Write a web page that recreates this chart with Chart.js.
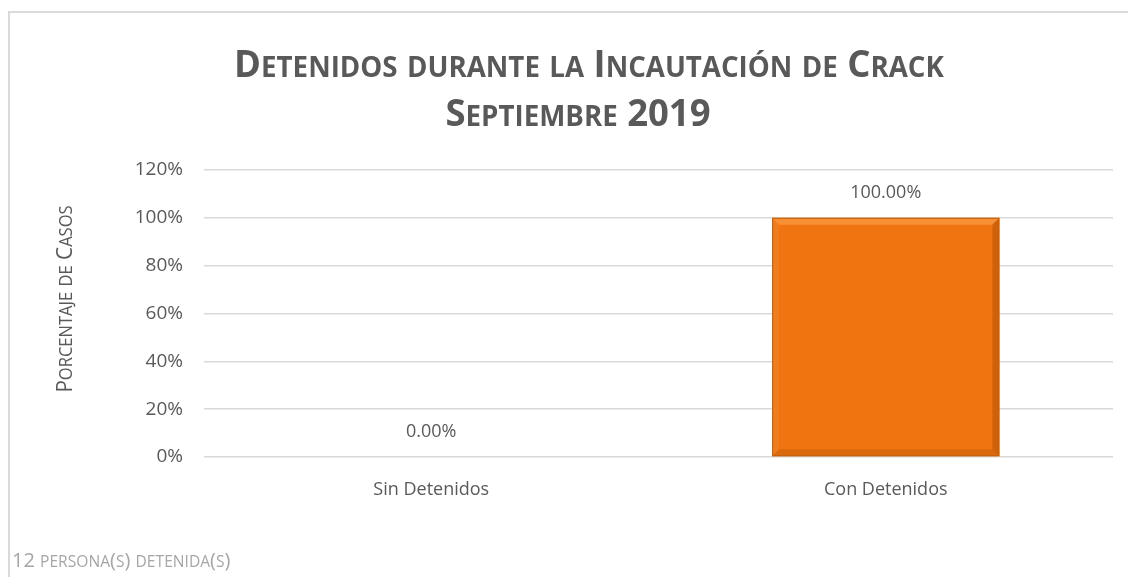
<!DOCTYPE html>
<html lang="es">

<head>
  <meta charset="UTF-8">
  <title>Detenidos durante la Incautación de Crack</title>
  <script src="https://cdn.jsdelivr.net/npm/chart.js"></script>
  <style>
    html, body { margin: 0; padding: 0; background: #fff; }
    #contenedor { position: relative; width: 1128px; height: 577px; }
  </style>
</head>

<body>
  <div id="contenedor">
    <canvas id="grafico"></canvas>
  </div>

  <script>
    // Datos del gráfico
    const categorias = ['Sin Detenidos', 'Con Detenidos'];
    const porcentajes = [0, 100];
    const ejeYMax = 120;
    const ejeYPaso = 20;

    const titulo1 = 'Detenidos durante la Incautación de Crack';
    const titulo2 = 'Septiembre 2019';
    const tituloEjeY = 'Porcentaje de Casos';
    const notaPie = '12 persona(s) detenida(s)';

    const gris = '#595959';
    const fuente = "'Open Sans', sans-serif";

    // Dibuja texto en versalitas: minúsculas pasan a mayúsculas más pequeñas
    function versalitas(ctx, texto, x, y, op) {
      const tramos = [];
      for (const ch of texto) {
        const pequena = ch !== ch.toUpperCase();
        const size = pequena ? op.size * op.ratio : op.size;
        const ult = tramos[tramos.length - 1];
        if (ult && ult.size === size) ult.t += ch.toUpperCase();
        else tramos.push({ t: ch.toUpperCase(), size });
      }
      ctx.save();
      ctx.fillStyle = op.color;
      ctx.textBaseline = 'alphabetic';
      ctx.textAlign = 'left';
      let total = 0;
      tramos.forEach(tr => {
        ctx.font = `${op.weight} ${tr.size}px ${fuente}`;
        tr.w = ctx.measureText(tr.t).width;
        total += tr.w;
      });
      ctx.translate(x, y);
      if (op.rotar) ctx.rotate(-Math.PI / 2);
      ctx.scale(op.hScale || 1, 1);
      let cx = op.align === 'center' ? -total / 2 : 0;
      tramos.forEach(tr => {
        ctx.font = `${op.weight} ${tr.size}px ${fuente}`;
        ctx.fillText(tr.t, cx, 0);
        cx += tr.w;
      });
      ctx.restore();
    }

    // Marco, títulos y nota al pie
    const decoracion = {
      id: 'decoracion',
      beforeDraw(chart) {
        const ctx = chart.ctx;
        ctx.save();
        ctx.fillStyle = '#fff';
        ctx.fillRect(0, 0, chart.width, chart.height);
        ctx.strokeStyle = '#d9d9d9';
        ctx.lineWidth = 2;
        ctx.beginPath();
        ctx.moveTo(9, chart.height);
        ctx.lineTo(9, 12);
        ctx.lineTo(chart.width, 12);
        ctx.stroke();
        ctx.restore();
      },
      afterDraw(chart) {
        const ctx = chart.ctx;
        const t = { size: 37, ratio: 0.76, weight: 700, color: gris, align: 'center', hScale: 0.985 };
        versalitas(ctx, titulo1, 589, 77, t);
        versalitas(ctx, titulo2, 578, 126, t);
        versalitas(ctx, tituloEjeY, 72, 299, { size: 22, ratio: 0.8, weight: 400, color: gris, align: 'center', rotar: true, hScale: 0.94 });
        versalitas(ctx, notaPie, 12, 567, { size: 20, ratio: 0.78, weight: 400, color: '#a6a6a6', align: 'left', hScale: 1 });
      }
    };

    // Relieve del borde de las barras
    const relieve = {
      id: 'relieve',
      afterDatasetsDraw(chart) {
        const ctx = chart.ctx;
        chart.getDatasetMeta(0).data.forEach(bar => {
          const { x, y, base, width } = bar.getProps(['x', 'y', 'base', 'width']);
          const h = base - y;
          if (h < 1) return;
          const l = x - width / 2, r = x + width / 2, b = 7;
          ctx.save();
          // borde superior claro
          ctx.fillStyle = 'rgba(255,180,100,0.45)';
          ctx.beginPath();
          ctx.moveTo(l, y); ctx.lineTo(r, y); ctx.lineTo(r - b, y + b); ctx.lineTo(l + b, y + b);
          ctx.fill();
          // borde izquierdo
          ctx.fillStyle = 'rgba(255,170,90,0.15)';
          ctx.beginPath();
          ctx.moveTo(l, y); ctx.lineTo(l + b, y + b); ctx.lineTo(l + b, base - b); ctx.lineTo(l, base);
          ctx.fill();
          // borde derecho oscuro
          ctx.fillStyle = 'rgba(120,50,0,0.28)';
          ctx.beginPath();
          ctx.moveTo(r, y); ctx.lineTo(r - b, y + b); ctx.lineTo(r - b, base - b); ctx.lineTo(r, base);
          ctx.fill();
          // borde inferior
          ctx.fillStyle = 'rgba(120,50,0,0.18)';
          ctx.beginPath();
          ctx.moveTo(l, base); ctx.lineTo(l + b, base - b); ctx.lineTo(r - b, base - b); ctx.lineTo(r, base);
          ctx.fill();
          ctx.strokeStyle = '#c0600c';
          ctx.lineWidth = 1;
          ctx.strokeRect(l + 0.5, y + 0.5, width - 1, h - 1);
          ctx.restore();
        });
      }
    };

    // Etiquetas de valor sobre cada barra
    const etiquetas = {
      id: 'etiquetas',
      afterDatasetsDraw(chart) {
        const ctx = chart.ctx;
        const meta = chart.getDatasetMeta(0);
        ctx.save();
        ctx.font = `400 18px ${fuente}`;
        ctx.fillStyle = gris;
        ctx.textAlign = 'center';
        ctx.textBaseline = 'middle';
        meta.data.forEach((bar, i) => {
          const v = chart.data.datasets[0].data[i];
          ctx.fillText(v.toFixed(2) + '%', bar.x, bar.y - 25);
        });
        ctx.restore();
      }
    };

    const lienzo = document.getElementById('grafico');

    new Chart(lienzo, {
      type: 'bar',
      data: {
        labels: categorias,
        datasets: [{
          data: porcentajes,
          backgroundColor: '#f07410',
          borderWidth: 0,
          barPercentage: 0.5,
          categoryPercentage: 1
        }]
      },
      options: {
        responsive: true,
        maintainAspectRatio: false,
        animation: false,
        layout: { padding: { top: 170, right: 15, left: 0, bottom: 0 } },
        plugins: {
          legend: { display: false },
          tooltip: { enabled: false },
          title: { display: false }
        },
        scales: {
          x: {
            grid: { display: false, drawTicks: false },
            border: { display: false },
            ticks: { color: gris, font: { family: fuente, size: 18 }, padding: 22 },
            afterFit(scale) { scale.height = 120; }
          },
          y: {
            min: 0,
            max: ejeYMax,
            ticks: {
              stepSize: ejeYPaso,
              color: gris,
              font: { family: fuente, size: 19 },
              padding: 21,
              callback: v => v + '%'
            },
            grid: { color: '#d9d9d9', lineWidth: 1.5, drawTicks: false },
            border: { display: false },
            afterFit(scale) { scale.width = 204; }
          }
        }
      },
      plugins: [decoracion, relieve, etiquetas]
    });
  </script>
</body>

</html>
